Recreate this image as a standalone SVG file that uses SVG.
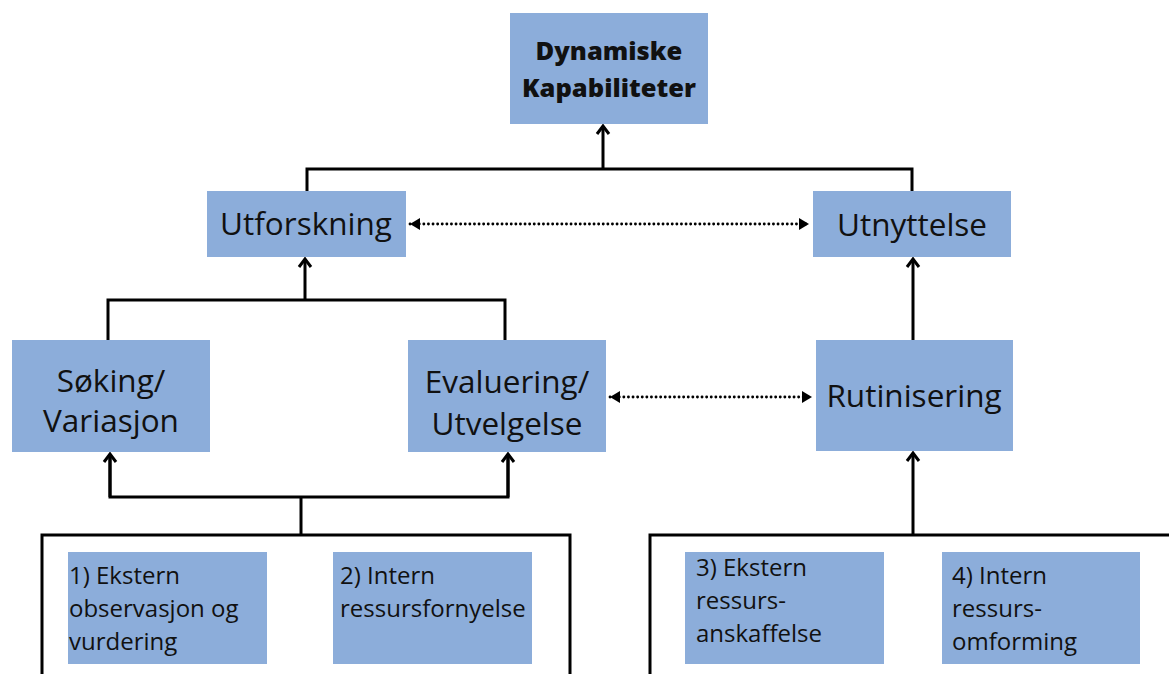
<svg xmlns="http://www.w3.org/2000/svg" width="1169" height="674" viewBox="0 0 1169 674">
<defs>
<style>
.box{fill:#8cadda;}
.t{font-family:"Open Sans","Liberation Sans",sans-serif;fill:#111;}
.big{font-size:31.5px;text-anchor:middle;}
.small{font-size:24px;}
.ttl{font-size:25.5px;font-weight:800;text-anchor:middle;}
.ln{stroke:#000;stroke-width:3;fill:none;}
.dot{stroke:#000;stroke-width:2.8;fill:none;stroke-dasharray:0.1 4.5;stroke-linecap:round;}
</style>
<marker id="chev" markerUnits="userSpaceOnUse" markerWidth="20" markerHeight="20" viewBox="-12 -10 20 20" refX="0" refY="0" orient="auto">
<path d="M-8,-6 L0,0 L-8,6" fill="none" stroke="#000" stroke-width="3"/>
</marker>
<marker id="tri" markerUnits="userSpaceOnUse" markerWidth="20" markerHeight="20" viewBox="-12 -10 20 20" refX="0" refY="0" orient="auto-start-reverse">
<path d="M-10,-6 L0,0 L-10,6 Z" fill="#000"/>
</marker>
</defs>
<rect width="1169" height="674" fill="#fff"/>

<g id="connectors">
<path class="ln" d="M307,191 V169 H912 V191"/>
<path class="ln" d="M603,169 V126" marker-end="url(#chev)"/>
<path class="dot" d="M410,224 H809" marker-start="url(#tri)" marker-end="url(#tri)"/>
<path class="ln" d="M108,340 V300 H505 V340"/>
<path class="ln" d="M305,300 V259" marker-end="url(#chev)"/>
<path class="ln" d="M913,340 V259" marker-end="url(#chev)"/>
<path class="dot" d="M610,397 H812" marker-start="url(#tri)" marker-end="url(#tri)"/>
<path class="ln" d="M110,454 V497 H508 V454"/>
<path class="ln" d="M110,497 V454" marker-end="url(#chev)"/>
<path class="ln" d="M508,497 V454" marker-end="url(#chev)"/>
<path class="ln" d="M301,497 V535"/>
<path class="ln" d="M42,674 V535 H570 V674"/>
<path class="ln" d="M913,535 V453" marker-end="url(#chev)"/>
<path class="ln" d="M650,674 V535 H1169"/>
</g>

<g id="dynamiske">
<rect class="box" x="510" y="13" width="198" height="111"/>
<text class="t ttl" x="609" y="60">Dynamiske</text>
<text class="t ttl" x="609" y="97">Kapabiliteter</text>
</g>
<g id="utforskning">
<rect class="box" x="207" y="191" width="199" height="66"/>
<text class="t big" x="306" y="235">Utforskning</text>
</g>
<g id="utnyttelse">
<rect class="box" x="813" y="191" width="198" height="66"/>
<text class="t big" x="912" y="236">Utnyttelse</text>
</g>
<g id="soking">
<rect class="box" x="12" y="340" width="198" height="112"/>
<text class="t big" x="111" y="392">Søking/</text>
<text class="t big" x="111" y="432">Variasjon</text>
</g>
<g id="evaluering">
<rect class="box" x="408" y="340" width="198" height="112"/>
<text class="t big" x="507" y="393">Evaluering/</text>
<text class="t big" x="507" y="435">Utvelgelse</text>
</g>
<g id="rutinisering">
<rect class="box" x="816" y="340" width="197" height="111"/>
<text class="t big" x="914" y="407">Rutinisering</text>
</g>
<g id="n1">
<rect class="box" x="68" y="552" width="199" height="112"/>
<text class="t small" x="69" y="584">1) Ekstern</text>
<text class="t small" x="69" y="617">observasjon og</text>
<text class="t small" x="69" y="650">vurdering</text>
</g>
<g id="n2">
<rect class="box" x="333" y="552" width="199" height="112"/>
<text class="t small" x="340" y="584">2) Intern</text>
<text class="t small" x="340" y="617">ressursfornyelse</text>
</g>
<g id="n3">
<rect class="box" x="685" y="552" width="199" height="112"/>
<text class="t small" x="696" y="576">3) Ekstern</text>
<text class="t small" x="696" y="609">ressurs-</text>
<text class="t small" x="696" y="642">anskaffelse</text>
</g>
<g id="n4">
<rect class="box" x="942" y="552" width="198" height="112"/>
<text class="t small" x="952" y="584">4) Intern</text>
<text class="t small" x="952" y="617">ressurs-</text>
<text class="t small" x="952" y="650">omforming</text>
</g>
</svg>
